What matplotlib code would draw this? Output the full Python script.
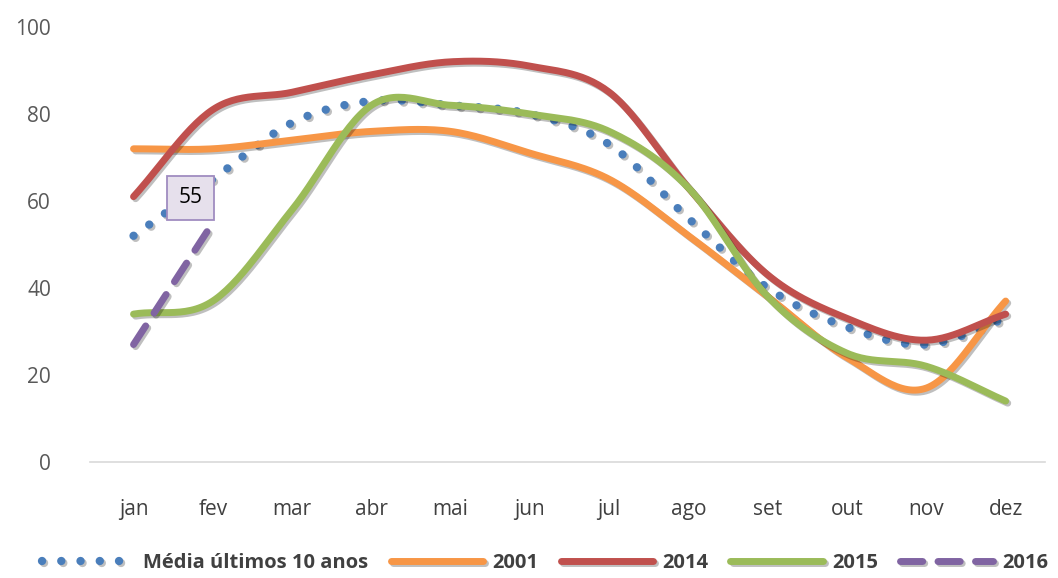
import numpy as np
import matplotlib
matplotlib.use("Agg")
from matplotlib import pyplot as plt
from matplotlib import patheffects as pe

months = ['jan', 'fev', 'mar', 'abr', 'mai', 'jun', 'jul', 'ago', 'set', 'out', 'nov', 'dez']
media_10 = [52, 65, 78, 83, 82, 80, 73, 56, 40, 31, 27, 33]
y2001 = [72, 72, 74, 76, 76, 71, 65, 52, 38, 24, 17, 37]
y2014 = [61, 81, 85, 89, 92, 91, 85, 63, 43, 33, 28, 34]
y2015 = [34, 37, 58, 82, 82, 80, 76, 63, 38, 25, 22, 14]
y2016 = [27, 55]

yticks = [0, 20, 40, 60, 80, 100]


def smooth(vals, n=30):
    # catmull-rom, like excel "smoothed line"
    x = np.arange(len(vals), dtype=float)
    y = np.asarray(vals, dtype=float)
    if len(vals) < 3:
        return x, y
    px = np.concatenate([[2 * x[0] - x[1]], x, [2 * x[-1] - x[-2]]])
    py = np.concatenate([[2 * y[0] - y[1]], y, [2 * y[-1] - y[-2]]])
    xs, ys = [], []
    t = np.linspace(0, 1, n)
    for i in range(1, len(px) - 2):
        for p, out in ((px, xs), (py, ys)):
            p0, p1, p2, p3 = p[i - 1], p[i], p[i + 1], p[i + 2]
            c1 = p1 + (p2 - p0) / 6
            c2 = p2 - (p3 - p1) / 6
            out.extend((1 - t) ** 3 * p1 + 3 * (1 - t) ** 2 * t * c1 + 3 * (1 - t) * t ** 2 * c2 + t ** 3 * p2)
    return np.array(xs), np.array(ys)


plt.rcParams['font.family'] = ['Open Sans', 'DejaVu Sans']

fig = plt.figure(figsize=(10.58, 5.78), dpi=100)
ax = fig.add_axes([0.085, 0.2007, 0.903, 0.7526])

shadow = [pe.SimpleLineShadow(offset=(1.5, -1.5), alpha=0.25, shadow_color='black'), pe.Normal()]

series = [
    (media_10, 'Média últimos 10 anos', '#4a7ebb', dict(linestyle=(0, (0.01, 2.3)), dash_capstyle='round', lw=6)),
    (y2001, '2001', '#f79646', dict(lw=5)),
    (y2014, '2014', '#c0504d', dict(lw=5)),
    (y2015, '2015', '#9bbb59', dict(lw=5)),
    (y2016, '2016', '#8064a2', dict(linestyle=(0, (3.2, 2.2)), dash_capstyle='round', lw=5)),
]
for vals, label, color, kw in series:
    sx, sy = smooth(vals)
    ax.plot(sx, sy, color=color, label=label, solid_capstyle='round', path_effects=shadow, **kw)

ax.annotate(str(y2016[1]), xy=(1, y2016[1]), xytext=(-16, 18), textcoords='offset points',
            ha='center', va='center', fontsize=15, color='black',
            bbox=dict(boxstyle='square,pad=0.55', fc='#e6e0ec', ec='#a08cc0', lw=1.3))

ax.set_xlim(-0.55, 11.5)
ax.set_ylim(0, 100)
ax.set_xticks(range(len(months)))
ax.set_xticklabels(months)
ax.set_yticks(yticks)
for s in ['top', 'right', 'left']:
    ax.spines[s].set_visible(False)
ax.spines['bottom'].set_color('#d9d9d9')
ax.spines['bottom'].set_linewidth(1.2)
ax.tick_params(axis='x', length=0, pad=27, labelsize=15, labelcolor='#404040')
ax.tick_params(axis='y', length=0, pad=28, labelsize=15, labelcolor='#595959')
for lab in ax.get_yticklabels():
    lab.set_horizontalalignment('right')

leg = fig.legend(loc='center', bbox_to_anchor=(0.515, 0.026), ncol=5, frameon=False,
                 fontsize=14.5, handlelength=4.6, handletextpad=0.45, columnspacing=1.1)
for t in leg.get_texts():
    t.set_color('#404040')
    t.set_fontweight('bold')

fig.savefig('out.png', dpi=100)
